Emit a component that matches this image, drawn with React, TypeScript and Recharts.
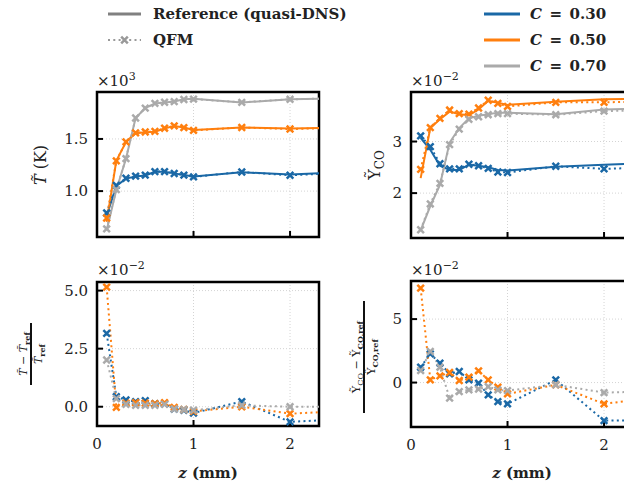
import React from "react";
import {
  LineChart,
  Line,
  XAxis,
  YAxis,
  CartesianGrid,
  ReferenceArea,
} from "recharts";

const FONT = "'DejaVu Serif', serif";
const BLUE = "#1a68a6";
const ORANGE = "#ff7f0e";
const GRAY = "#aaaaaa";

// axial positions (mm)
const zPos = [0.1, 0.2, 0.3, 0.4, 0.5, 0.6, 0.7, 0.8, 0.9, 1.0, 1.5, 2.0, 2.5];
const caseLabels = ["0.30", "0.50", "0.70"];
const caseColors = [BLUE, ORANGE, GRAY];

// mean temperature (K), reference
const tRef30 = [765, 1050, 1120, 1140, 1150, 1185, 1185, 1170, 1155, 1140, 1180, 1160, 1180];
const tRef50 = [705, 1290, 1470, 1555, 1565, 1570, 1600, 1625, 1610, 1585, 1610, 1600, 1610];
const tRef70 = [625, 1010, 1310, 1700, 1795, 1840, 1850, 1860, 1880, 1885, 1850, 1880, 1890];
// mean temperature (K), QFM
const tQfm30 = [790, 1055, 1123, 1143, 1153, 1187, 1187, 1169, 1153, 1137, 1183, 1152, 1174];
const tQfm50 = [742, 1290, 1472, 1558, 1567, 1572, 1603, 1625, 1608, 1582, 1610, 1595, 1607];
const tQfm70 = [638, 1014, 1311, 1701, 1796, 1841, 1852, 1858, 1878, 1882, 1851, 1880, 1890];

// mean CO mass fraction, reference
const yRef30 = [0.0307, 0.0284, 0.0253, 0.0245, 0.0245, 0.0255, 0.0253, 0.025, 0.0245, 0.0244, 0.0251, 0.0255, 0.0258];
const yRef50 = [0.0229, 0.0326, 0.0343, 0.0358, 0.0353, 0.0351, 0.0362, 0.0379, 0.0375, 0.0371, 0.0377, 0.0382, 0.0383];
const yRef70 = [0.0128, 0.0175, 0.0216, 0.0298, 0.0326, 0.0345, 0.035, 0.0353, 0.0356, 0.0356, 0.0353, 0.0362, 0.0364];
// mean CO mass fraction, QFM
const yQfm30 = [0.0311, 0.029, 0.0257, 0.0247, 0.0247, 0.0256, 0.0253, 0.0248, 0.0241, 0.024, 0.0252, 0.0247, 0.025];
const yQfm50 = [0.0246, 0.0327, 0.0345, 0.0361, 0.0354, 0.0353, 0.0365, 0.038, 0.0374, 0.0368, 0.0376, 0.0376, 0.0378];
const yQfm70 = [0.0129, 0.0179, 0.0219, 0.0294, 0.0324, 0.0343, 0.0348, 0.0352, 0.0354, 0.0354, 0.0352, 0.0359, 0.0361];

// relative errors of QFM vs reference
const tErr30 = [0.0316, 0.0043, 0.0029, 0.0022, 0.0026, 0.0013, 0.0013, -0.001, -0.0015, -0.0027, 0.0022, -0.0065, -0.0055];
const tErr50 = [0.0515, -0.0003, 0.0015, 0.0017, 0.0015, 0.0013, 0.0017, -0.0003, -0.0012, -0.002, 0.0, -0.003, -0.002];
const tErr70 = [0.0201, 0.0035, 0.001, 0.0006, 0.0006, 0.0006, 0.001, -0.001, -0.0012, -0.0015, 0.0006, 0.0, 0.0];
const yErr30 = [0.0121, 0.0226, 0.0153, 0.0069, 0.0087, 0.0021, -0.0005, -0.0097, -0.015, -0.0168, 0.0021, -0.03, -0.0295];
const yErr50 = [0.0744, 0.0021, 0.0053, 0.0079, 0.0016, 0.0043, 0.0092, 0.0021, -0.0036, -0.0089, -0.0018, -0.0168, -0.012];
const yErr70 = [0.0095, 0.0245, 0.0121, -0.0123, -0.0071, -0.0058, -0.0052, -0.0032, -0.0058, -0.0063, -0.0018, -0.0079, -0.007];

const toRows = (ref: number[][] | null, qfm: number[][]) =>
  zPos.map((z, i) => ({
    z,
    r0: ref ? ref[0][i] : null,
    r1: ref ? ref[1][i] : null,
    r2: ref ? ref[2][i] : null,
    q0: qfm[0][i],
    q1: qfm[1][i],
    q2: qfm[2][i],
  }));

const tempRows = toRows([tRef30, tRef50, tRef70], [tQfm30, tQfm50, tQfm70]);
const coRows = toRows([yRef30, yRef50, yRef70], [yQfm30, yQfm50, yQfm70]);
const tErrRows = toRows(null, [tErr30, tErr50, tErr70]);
const coErrRows = toRows(null, [yErr30, yErr50, yErr70]);

const xMark = (color: string) => (p: any) => {
  const { cx, cy, index } = p;
  if (cx == null || cy == null) return <g key={`m${index}`} />;
  const s = 3.3;
  return (
    <path
      key={`m${index}`}
      d={`M${cx - s},${cy - s}L${cx + s},${cy + s}M${cx - s},${cy + s}L${cx + s},${cy - s}`}
      stroke={color}
      strokeWidth={2.5}
      fill="none"
    />
  );
};

type PanelProps = {
  data: any[];
  left: number;
  top: number;
  plotH: number;
  yDomain: [number, number];
  yTicks: number[];
  yFmt: (v: number) => string;
  showRef: boolean;
  xLabels: boolean;
};

const PLOT_W = 222;
const Y_W = 97;
const M_TOP = 12;

const Panel: React.FC<PanelProps> = ({
  data,
  left,
  top,
  plotH,
  yDomain,
  yTicks,
  yFmt,
  showRef,
  xLabels,
}) => {
  const xh = 30;
  return (
    <div style={{ position: "absolute", left, top }}>
      <LineChart
        width={Y_W + PLOT_W + 6}
        height={M_TOP + plotH + xh}
        data={data}
        margin={{ top: M_TOP, right: 6, left: 0, bottom: 0 }}
      >
        <CartesianGrid
          stroke="#d4d4d4"
          strokeDasharray="1 2"
          verticalValues={[1, 2]}
        />
        <XAxis
          type="number"
          dataKey="z"
          domain={[0, 2.3]}
          ticks={[0, 1, 2]}
          allowDataOverflow
          height={xh}
          axisLine={false}
          tickSize={-6}
          tickMargin={18}
          tickLine={{ stroke: "#000", strokeWidth: 2 }}
          tick={{ fill: "#222", fontSize: 15, fontFamily: FONT }}
          tickFormatter={(v: number) => (xLabels ? String(v) : "")}
        />
        <YAxis
          type="number"
          domain={yDomain}
          ticks={yTicks}
          allowDataOverflow
          width={Y_W}
          axisLine={false}
          tickSize={-6}
          tickMargin={15}
          tickLine={{ stroke: "#000", strokeWidth: 2 }}
          tick={{ fill: "#222", fontSize: 15, fontFamily: FONT }}
          tickFormatter={yFmt}
        />
        <ReferenceArea
          x1={0}
          x2={2.3}
          y1={yDomain[0]}
          y2={yDomain[1]}
          fill="none"
          fillOpacity={0}
          stroke="#000"
          strokeWidth={2.5}
        />
        {showRef &&
          [0, 1, 2].map((k) => (
            <Line
              key={`r${k}`}
              type="linear"
              dataKey={`r${k}`}
              stroke={caseColors[k]}
              strokeWidth={2}
              dot={false}
              isAnimationActive={false}
            />
          ))}
        {[0, 1, 2].map((k) => (
          <Line
            key={`q${k}`}
            type="linear"
            dataKey={`q${k}`}
            stroke={caseColors[k]}
            strokeWidth={2}
            strokeDasharray="2 3.3"
            dot={xMark(caseColors[k])}
            isAnimationActive={false}
          />
        ))}
      </LineChart>
    </div>
  );
};

const Mult: React.FC<{ x: number; y: number; exp: string }> = ({ x, y, exp }) => (
  <text x={x} y={y} fontSize={15} fill="#222">
    ×10
    <tspan dy={-6} fontSize={11}>
      {exp}
    </tspan>
  </text>
);

export default function App() {
  return (
    <div
      style={{
        position: "absolute",
        left: 0,
        top: 0,
        width: 624,
        height: 488,
        overflow: "hidden",
        background: "#fff",
        fontFamily: FONT,
      }}
    >
      <Panel
        data={tempRows}
        left={0}
        top={80}
        plotH={145}
        yDomain={[560, 1950]}
        yTicks={[1000, 1500]}
        yFmt={(v) => (v / 1000).toFixed(1)}
        showRef
        xLabels={false}
      />
      <Panel
        data={coRows}
        left={314}
        top={80}
        plotH={146}
        yDomain={[0.0113, 0.0396]}
        yTicks={[0.02, 0.03]}
        yFmt={(v) => String(Math.round(v * 100))}
        showRef
        xLabels={false}
      />
      <Panel
        data={tErrRows}
        left={0}
        top={270}
        plotH={144}
        yDomain={[-0.0083, 0.0537]}
        yTicks={[0, 0.025, 0.05]}
        yFmt={(v) => (v * 100).toFixed(1)}
        showRef={false}
        xLabels
      />
      <Panel
        data={coErrRows}
        left={314}
        top={269}
        plotH={146}
        yDomain={[-0.035, 0.08]}
        yTicks={[0, 0.05]}
        yFmt={(v) => String(Math.round(v * 100))}
        showRef={false}
        xLabels
      />

      <svg
        width={624}
        height={488}
        style={{ position: "absolute", left: 0, top: 0, pointerEvents: "none" }}
        fontFamily={FONT}
      >
        {/* legend: model */}
        <line x1={108} x2={141} y1={14} y2={14} stroke="#808080" strokeWidth={3} />
        <text x={153} y={19} fontSize={15} fontWeight="bold" fill="#222">
          Reference (quasi-DNS)
        </text>
        <line x1={108} x2={141} y1={40} y2={40} stroke="#999" strokeWidth={2} strokeDasharray="2 3.3" />
        <path d="M121.2,36.7L127.8,43.3M121.2,43.3L127.8,36.7" stroke="#999" strokeWidth={2.5} />
        <text x={153} y={45} fontSize={15} fontWeight="bold" fill="#222">
          QFM
        </text>

        {/* legend: cases */}
        {caseLabels.map((c, k) => (
          <g key={c}>
            <line x1={484} x2={520} y1={14 + 26 * k} y2={14 + 26 * k} stroke={caseColors[k]} strokeWidth={3} />
            <text x={530} y={19 + 26 * k} fontSize={15} fontWeight="bold" fill="#222">
              <tspan fontStyle="italic">C</tspan>
              {"\u2002=\u2002"}
              {c}
            </text>
          </g>
        ))}

        <Mult x={97} y={86} exp="3" />
        <Mult x={411} y={86} exp="−2" />
        <Mult x={97} y={275} exp="−2" />
        <Mult x={411} y={275} exp="−2" />

        {/* y titles */}
        <text transform="translate(46,165) rotate(-90)" textAnchor="middle" fontSize={16} fill="#222">
          <tspan fontStyle="italic">{"T\u0303"}</tspan> (K)
        </text>
        <text transform="translate(380,165) rotate(-90)" textAnchor="middle" fontSize={16} fill="#222">
          {"Y\u0303"}
          <tspan dy={4} fontSize={12}>
            CO
          </tspan>
        </text>

        <g transform="translate(31,354) rotate(-90)">
          <text y={-4} textAnchor="middle" fontSize={11} fill="#222">
            <tspan fontStyle="italic">{"T\u0303"}</tspan>
            {" − "}
            <tspan fontStyle="italic">{"T\u0303"}</tspan>
            <tspan dy={3} fontSize={8} fontWeight="bold">
              ref
            </tspan>
          </text>
          <line x1={-31} x2={31} y1={0} y2={0} stroke="#111" strokeWidth={2} />
          <text y={11} textAnchor="middle" fontSize={11} fill="#222">
            <tspan fontStyle="italic">{"T\u0303"}</tspan>
            <tspan dy={3} fontSize={8} fontWeight="bold">
              ref
            </tspan>
          </text>
        </g>

        <g transform="translate(364,357) rotate(-90)">
          <text y={-4} textAnchor="middle" fontSize={11} fill="#222">
            {"Y\u0303"}
            <tspan dy={3} fontSize={8}>
              CO
            </tspan>
            <tspan dy={-3}>{" − Y\u0303"}</tspan>
            <tspan dy={3} fontSize={8} fontWeight="bold">
              CO,ref
            </tspan>
          </text>
          <line x1={-56} x2={56} y1={0} y2={0} stroke="#111" strokeWidth={2} />
          <text y={11} textAnchor="middle" fontSize={11} fill="#222">
            {"Y\u0303"}
            <tspan dy={3} fontSize={8} fontWeight="bold">
              CO,ref
            </tspan>
          </text>
        </g>

        {/* x titles */}
        {[208, 522].map((cx) => (
          <text key={cx} x={cx} y={478} textAnchor="middle" fontSize={15} fontWeight="bold" fill="#222">
            <tspan fontStyle="italic">z</tspan> (mm)
          </text>
        ))}
      </svg>
    </div>
  );
}
